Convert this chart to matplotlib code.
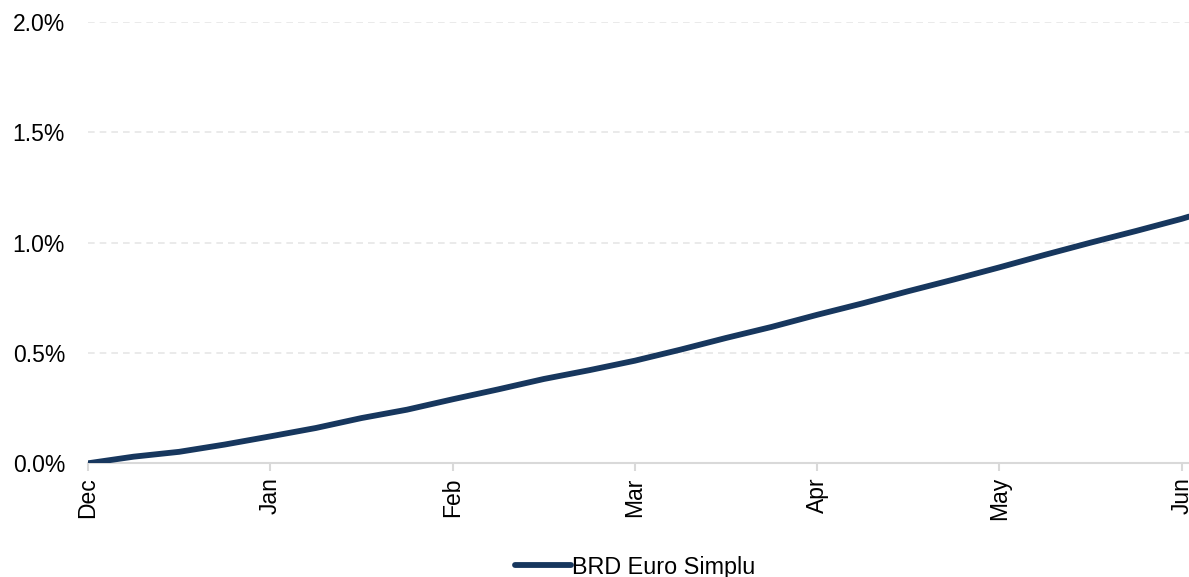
import numpy as np
import matplotlib.pyplot as plt
from matplotlib.ticker import FuncFormatter

# month labels (equally spaced category axis)
months = ['Dec', 'Jan', 'Feb', 'Mar', 'Apr', 'May', 'Jun']

# position in months since start, cumulative return in %
pos = [0, 0.25, 0.5, 0.75, 1.0, 1.25, 1.5, 1.75, 2.0, 2.25, 2.5, 2.75, 3.0,
       3.25, 3.5, 3.75, 4.0, 4.25, 4.5, 4.75, 5.0, 5.25, 5.5, 5.75, 6.0, 6.04]
ret = [0.000, 0.030, 0.052, 0.085, 0.122, 0.160, 0.205, 0.243, 0.290, 0.335,
       0.382, 0.422, 0.465, 0.515, 0.568, 0.618, 0.673, 0.725, 0.780, 0.833,
       0.888, 0.945, 1.000, 1.053, 1.108, 1.118]

series_name = 'BRD Euro Simplu'

plt.rcParams['font.family'] = ['Liberation Sans', 'DejaVu Sans']

fig = plt.figure(figsize=(11.89, 5.77), dpi=100)
ax = fig.add_axes([88 / 1189, 1 - 463.3 / 577, 1 - 88 / 1189, (463.3 - 22) / 577])

ax.plot(pos, ret, color='#17375e', lw=4.2, solid_capstyle='round', label=series_name)

ax.set_xlim(0, 6.04)
ax.set_ylim(0, 2.0)
ax.set_yticks([0, 0.5, 1.0, 1.5, 2.0])
ax.yaxis.set_major_formatter(FuncFormatter(lambda v, p: f'{v:.1f}%'))
ax.set_xticks(range(len(months)))
ax.set_xticklabels(months, rotation=90, va='top', ha='center')

for s in ['top', 'right', 'left']:
    ax.spines[s].set_visible(False)
ax.spines['bottom'].set_color('#d9d9d9')
ax.spines['bottom'].set_linewidth(1.5)
ax.spines['bottom'].set_zorder(1)

ax.tick_params(axis='y', length=0, pad=16.5, labelsize=16.5, labelcolor='#000000')
ax.tick_params(axis='x', length=6, width=1.5, color='#d9d9d9', pad=4, labelsize=16.5)

ax.grid(axis='y', color='#e6e6e6', lw=1.2, ls=(0, (4, 3)))
ax.set_axisbelow(True)
# no gridline over the baseline
ax.yaxis.get_gridlines()[0].set_visible(False)

leg = ax.legend(loc='center', bbox_to_anchor=(0.497, -0.235), frameon=False,
                fontsize=16.8, handlelength=2.4, handletextpad=0.05)

fig.savefig('out.png', dpi=100)
